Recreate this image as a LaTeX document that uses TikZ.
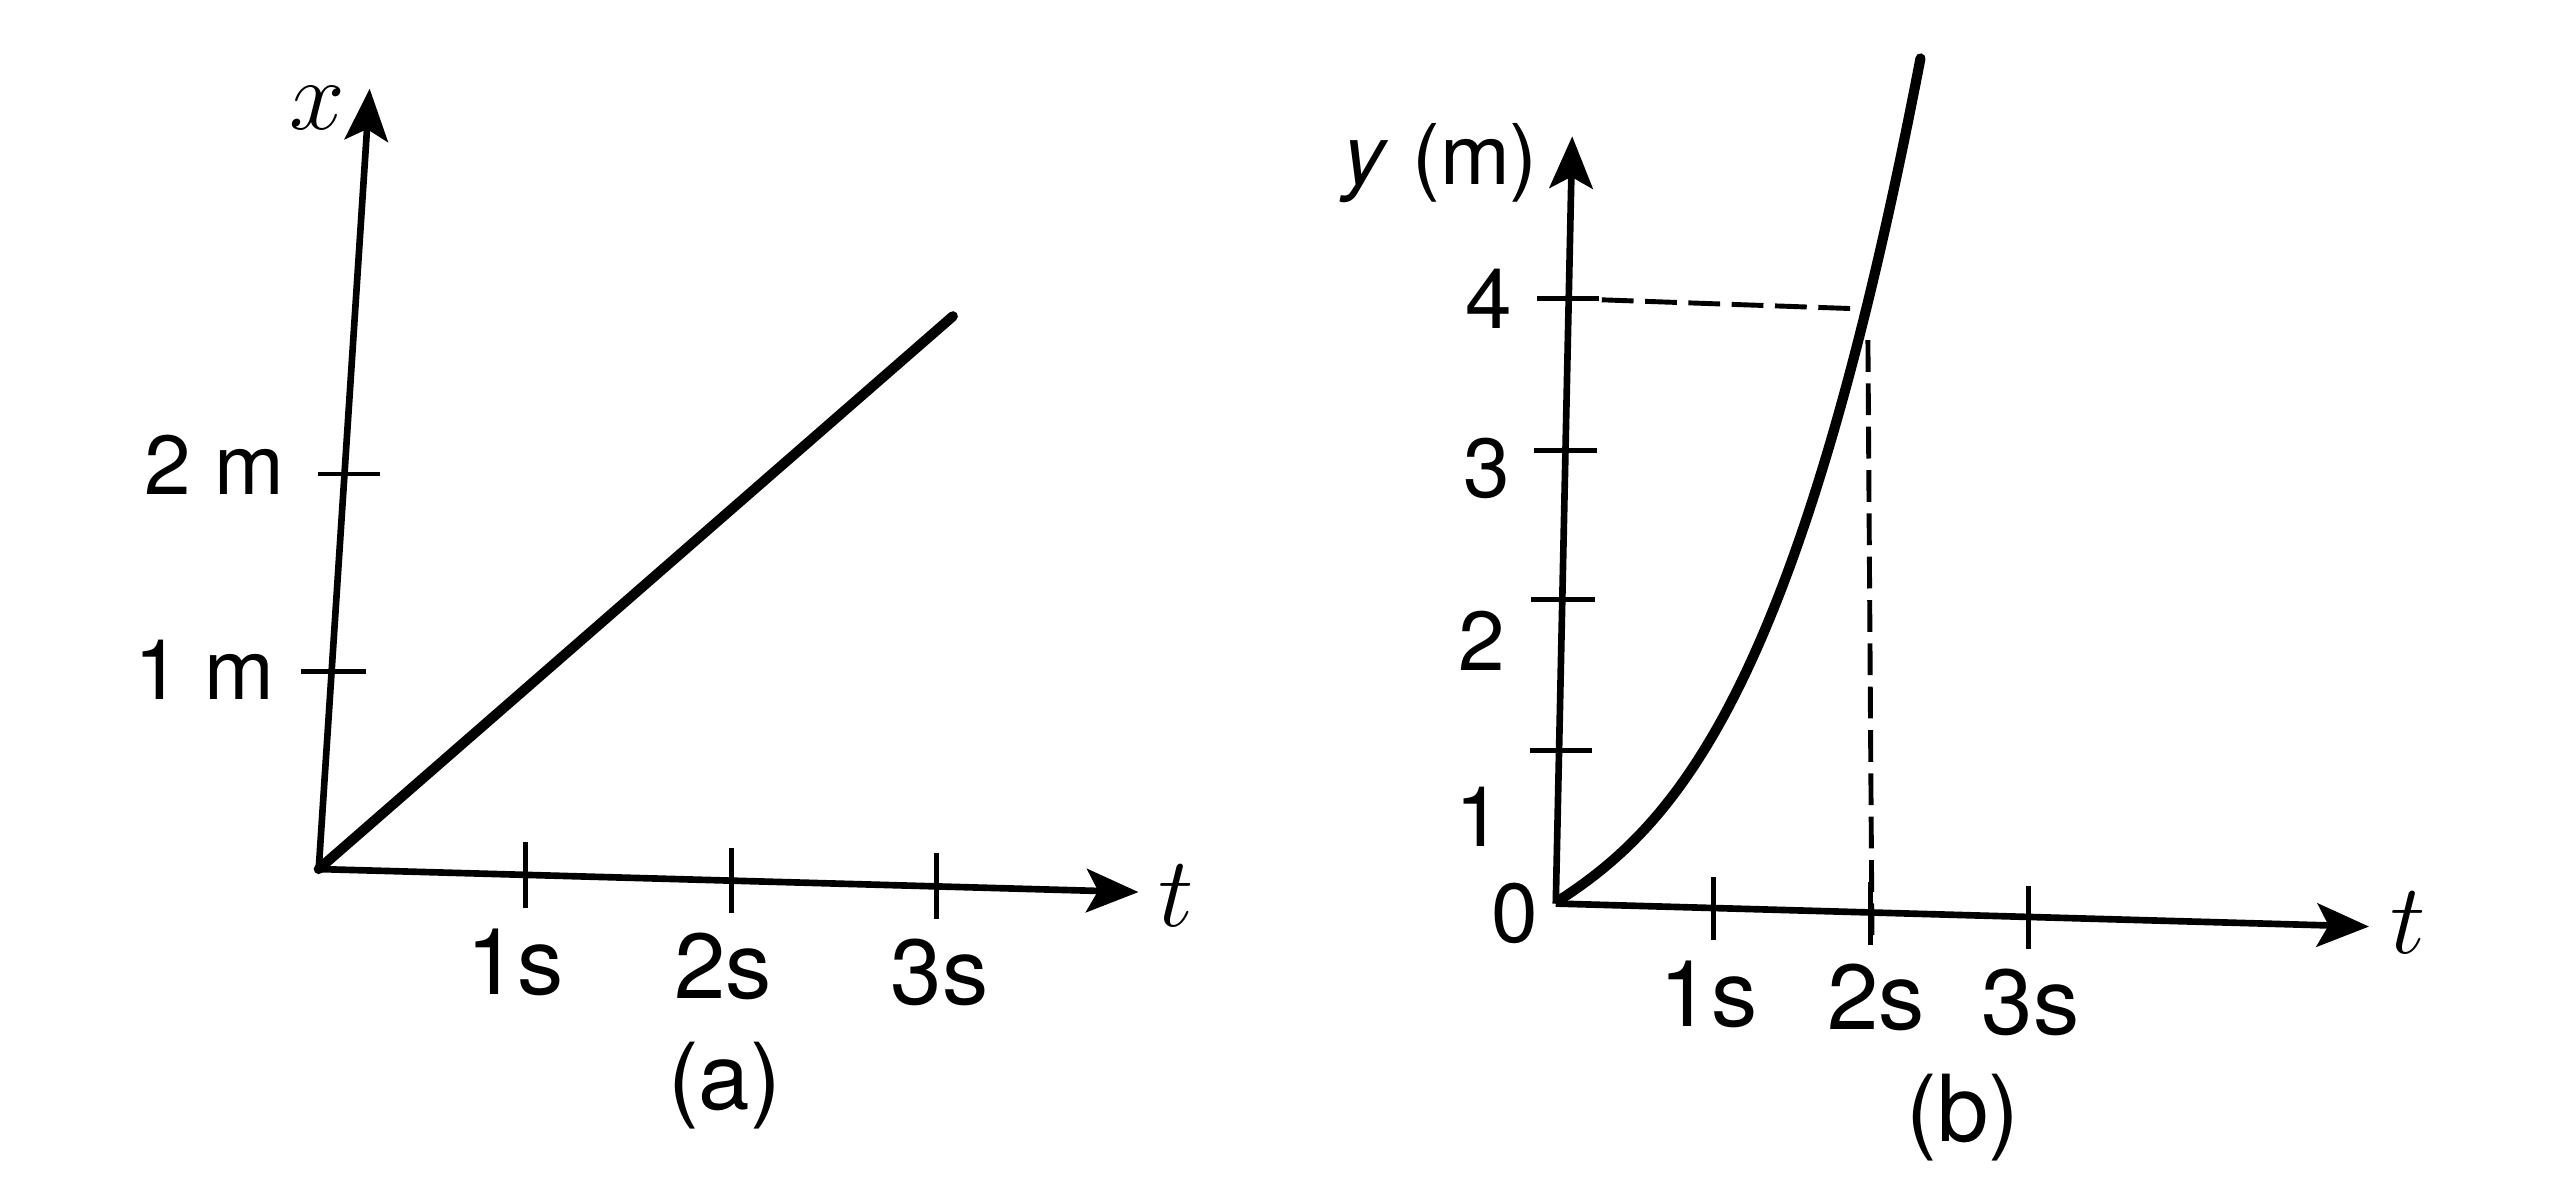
\documentclass[tikz,border=0pt]{standalone}
\usepackage{fontspec}
\setsansfont{TeX Gyre Heros}
\usetikzlibrary{arrows.meta}

\tikzset{
	akse/.style={line width=1.15pt, -{Stealth[length=9pt, width=7.5pt, inset=2pt]}},
	graf/.style={line width=1.75pt, line cap=round},
	merke/.style={line width=0.85pt},
	hjelpelinje/.style={line width=0.85pt, dash pattern=on 5.5pt off 2pt},
	tall/.style={font=\sffamily\fontsize{14.5}{16}\selectfont, inner sep=0pt},
	tid/.style={font=\sffamily\fontsize{16}{18}\selectfont, inner sep=0pt},
	akselabel/.style={font=\fontsize{17}{19}\selectfont, inner sep=0pt},
}

\begin{document}
\begin{tikzpicture}[x=0.01cm, y=-0.01cm]
		\useasboundingbox (0,0) rectangle (1568,718);

		% (a): Koordinatsystem
		\coordinate (Oa) at (194,529);
		\draw[akse] (Oa) -- (693,543) coordinate (Ta);
		\draw[akse] (Oa) -- (225,54) coordinate (Xa);
		\node[akselabel] (ta) at (716,545) {$t$};
		\node[akselabel] (xa) at (193,66) {$x$};

		% Merker paa tidsaksen
		\foreach \x/\y in {320/532.5, 445.5/536, 570/539.5}
			\draw[merke] (\x,\y-20) -- (\x,\y+20);
		\node[tid] (a1s) at (313.5,586) {1s};
		\node[tid] (a2s) at (440,588) {2s};
		\node[tid] (a3s) at (572,592) {3s};

		% Merker paa x-aksen
		\draw[merke] (193.5,288.5) -- (231,288.5);
		\draw[merke] (183,409) -- (223,409);
		\node[tall] (a2m) at (130.5,283) {2 m};
		\node[tall] (a1m) at (124.5,408) {1 m};

		% Rett linje
		\draw[graf] (Oa) -- (580,192.5);

		\node[tid] (capa) at (441,661) {(a)};

		% (b): Koordinatsystem
		\coordinate (Ob) at (947,550);
		\draw[akse] (Ob) -- (1442,564) coordinate (Tb);
		\draw[akse] (Ob) -- (957,83) coordinate (Yb);
		\node[akselabel] (tb) at (1466,562) {$t$};
		\node[tall] (yb) at (877,99) {\textit{y} (m)};

		% Merker paa tidsaksen
		\foreach \x/\y in {1043/553, 1138.5/556, 1235/558.5}
			\draw[merke] (\x,\y-19) -- (\x,\y+19);
		\node[tid] (b1s) at (1040,605) {1s};
		\node[tid] (b2s) at (1142,607) {2s};
		\node[tid] (b3s) at (1236,610) {3s};

		% Merker paa y-aksen
		\foreach \y/\xa/\xb in {457/931/969, 365/932/971, 274/934/972, 181.5/935.5/973}
			\draw[merke] (\xa,\y) -- (\xb,\y);
		\node[tall] (b4) at (906,182) {4};
		\node[tall] (b3) at (905,285) {3};
		\node[tall] (b2) at (902,390) {2};
		\node[tall] (b1) at (900,497) {1};
		\node[tall] (b0) at (922,556) {0};

		% Kurve (omtrent y = t^2)
		\draw[graf, domain=0:2.2, samples=80, smooth]
			plot ({949+100*\x}, {548-(64.48*\x+22.79*\x*\x+24.45*\x*\x*\x)});

		% Stiplede hjelpelinjer
		\draw[hjelpelinje] (975,182.5) -- (1132,188);
		\draw[hjelpelinje] (1137,207) -- (1139.5,575);

		\node[tid] (capb) at (1195,680) {(b)};
	\end{tikzpicture}
\end{document}
